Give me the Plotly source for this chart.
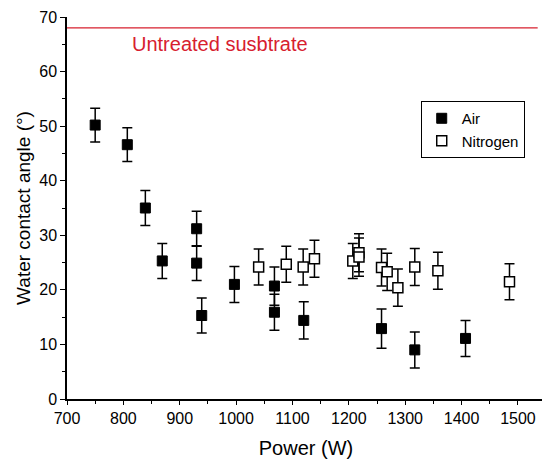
import plotly.graph_objects as go

# Air series
air_power = [750, 807, 839, 869, 930, 930, 939, 997, 1068, 1068, 1120, 1258, 1317, 1407]
air_angle = [50.2, 46.6, 35.0, 25.3, 31.2, 24.9, 15.3, 21.0, 20.7, 15.9, 14.4, 12.9, 9.0, 11.1]
air_err = [3.1, 3.1, 3.2, 3.2, 3.2, 3.2, 3.2, 3.3, 3.5, 3.3, 3.4, 3.6, 3.3, 3.3]

# Nitrogen series
n2_power = [1040, 1089, 1119, 1139, 1207, 1218, 1218, 1258, 1268, 1287, 1317, 1358, 1485]
n2_angle = [24.2, 24.7, 24.2, 25.7, 25.3, 26.8, 26.0, 24.1, 23.3, 20.4, 24.2, 23.5, 21.5]
n2_err = [3.3, 3.3, 3.3, 3.4, 3.2, 3.5, 3.5, 3.4, 3.4, 3.4, 3.4, 3.4, 3.3]

# Untreated substrate reference line
untreated_x = [700, 1535]
untreated_y = [68, 68]
untreated_label = "Untreated susbtrate"

x_ticks = [700, 800, 900, 1000, 1100, 1200, 1300, 1400, 1500]
y_ticks = [0, 10, 20, 30, 40, 50, 60, 70]

FONT = "Liberation Sans, Arial, sans-serif"
RED = "#d7202e"

fig = go.Figure()

fig.add_trace(go.Scatter(
    x=untreated_x, y=untreated_y, mode="lines",
    line=dict(color=RED, width=1.3), showlegend=False, hoverinfo="skip"))

fig.add_trace(go.Scatter(
    x=air_power, y=air_angle, mode="markers", name="Air",
    marker=dict(symbol="square", size=10, color="black",
                line=dict(color="black", width=1)),
    error_y=dict(type="data", array=air_err, visible=True,
                 color="black", thickness=1.5, width=5)))

fig.add_trace(go.Scatter(
    x=n2_power, y=n2_angle, mode="markers", name="Nitrogen",
    marker=dict(symbol="square", size=10, color="white",
                line=dict(color="black", width=1.5)),
    error_y=dict(type="data", array=n2_err, visible=True,
                 color="black", thickness=1.5, width=5)))

fig.add_annotation(x=972, y=65.1, text=untreated_label, showarrow=False,
                   font=dict(family=FONT, size=20, color=RED),
                   xanchor="center", yanchor="middle")

# page body adds an 8px offset; margins compensate for it
fig.update_layout(
    width=550, height=464,
    margin=dict(l=59, r=13, t=9, b=73),
    paper_bgcolor="white", plot_bgcolor="white",
    font=dict(family=FONT, size=16, color="black"),
    showlegend=True,
    legend=dict(x=0.74, y=0.78, xanchor="left", yanchor="top",
                bordercolor="black", borderwidth=1, bgcolor="white",
                font=dict(family=FONT, size=15, color="black"),
                itemwidth=30, tracegroupgap=0),
)

fig.update_xaxes(
    range=[700, 1548], tickvals=x_ticks, ticktext=[str(v) for v in x_ticks],
    showgrid=False, zeroline=False, showline=True, linecolor="black", linewidth=1.5,
    ticks="outside", ticklen=4, tickcolor="black", automargin=False,
    ticklabeloverflow="allow",
    minor=dict(dtick=50, ticks="outside", ticklen=3, tickcolor="black"),
    title=dict(text="Power (W)", font=dict(family=FONT, size=20), standoff=15),
    tickfont=dict(family=FONT, size=16))

fig.update_yaxes(
    range=[0, 70], tickvals=y_ticks, ticktext=[str(v) for v in y_ticks],
    showgrid=False, zeroline=False, showline=True, linecolor="black", linewidth=1.5,
    ticks="outside", ticklen=5, tickcolor="black", automargin=False,
    ticklabeloverflow="allow",
    minor=dict(dtick=5, ticks="outside", ticklen=3, tickcolor="black"),
    title=dict(text="Water contact angle (°)", font=dict(family=FONT, size=19), standoff=4),
    tickfont=dict(family=FONT, size=16))

fig.write_html("out.html")
